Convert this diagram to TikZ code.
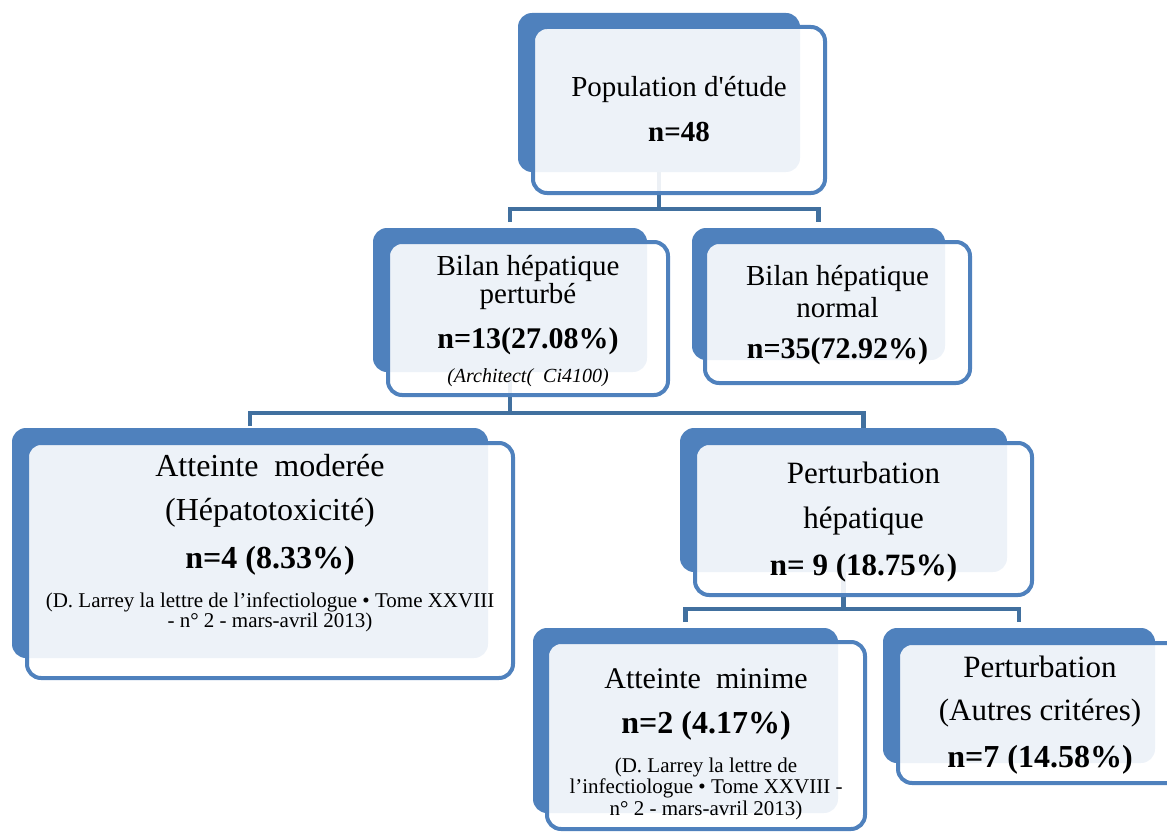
\documentclass[tikz,border=0pt]{standalone}
\usepackage{fontspec}
\setmainfont{Liberation Serif}[Ligatures=TeXOff]
\usepackage{tikz}
\usetikzlibrary{positioning, calc, backgrounds}
\definecolor{bleu}{HTML}{4F81BD}
\definecolor{bleulien}{HTML}{41709F}
\tikzset{
	% fond bleu de chaque boîte
	fond/.style={rectangle, fill=bleu, rounded corners=14pt, inner sep=0pt, outer sep=0pt},
	% boîte de devant (blanc translucide, bord bleu)
	devant/.style={rectangle, draw=bleu, line width=4pt, fill=white, fill opacity=0.9,
	               rounded corners=14pt, inner sep=0pt, outer sep=0pt},
	% connecteur de l'arbre
	lien/.style={draw=bleulien, line width=4.5pt},
	% lignes de texte
	ligne/.style={anchor=base, inner sep=0pt, font=\fontsize{#1}{#1}\selectfont},
	gras/.style={anchor=base, inner sep=0pt, font=\bfseries\fontsize{#1}{#1}\selectfont},
	note/.style={anchor=base, inner sep=0pt, font=\itshape\fontsize{#1}{#1}\selectfont},
}

\begin{document}
\begin{tikzpicture}[x=1pt, y=-1pt]
    \useasboundingbox (0,0) rectangle (1167,832);
    \clip (0,0) rectangle (1167,832);
    % population
    \node[fond, minimum width=282pt, minimum height=159pt] (popfond) at (659,92.5) {};
    \node[devant, minimum width=292pt, minimum height=166pt] (pop) at (679,110) {};
    \node[ligne=29] (popa) at (679,97) {Population d'étude};
    \node[gras=29] (popb) at (679,142) {n=48};
    % bilan perturbé
    \node[fond, minimum width=274pt, minimum height=144pt] (bilpfond) at (510,300) {};
    \node[devant, minimum width=280pt, minimum height=153pt] (bilp) at (528,318.5) {};
    \node[ligne=29] (bilpa) at (528,275) {Bilan hépatique};
    \node[ligne=29] (bilpb) at (528,303) {perturbé};
    \node[gras=30] (bilpc) at (528,348) {n=13(27.08\%)};
    \node[note=20] (bilpd) at (528,382) {(Architect(\ \ Ci4100)};
    % bilan normal
    \node[fond, minimum width=253pt, minimum height=132pt] (bilnfond) at (818.5,294) {};
    \node[devant, minimum width=265pt, minimum height=141pt] (biln) at (837.5,312.5) {};
    \node[ligne=29] (bilna) at (837.5,285) {Bilan hépatique};
    \node[ligne=29] (bilnb) at (837.5,317) {normal};
    \node[gras=30] (bilnc) at (837.5,358) {n=35(72.92\%)};
    % atteinte moderée
    \node[fond, minimum width=476pt, minimum height=230pt] (modfond) at (250,543) {};
    \node[devant, minimum width=486pt, minimum height=235pt] (mod) at (270,560.5) {};
    \node[ligne=32] (moda) at (270,476) {Atteinte\ \ moderée};
    \node[ligne=32] (modb) at (270,520) {(Hépatotoxicité)};
    \node[gras=32] (modc) at (270,568) {n=4 (8.33\%)};
    \node[ligne=21] (modd) at (270,607) {(D. Larrey la lettre de l’infectiologue • Tome XXVIII};
    \node[ligne=21] (mode) at (270,627) {- n° 2 - mars-avril 2013)};
    % perturbation hépatique
    \node[fond, minimum width=327pt, minimum height=144pt] (perthfond) at (843.5,500) {};
    \node[devant, minimum width=337pt, minimum height=152pt] (perth) at (863.5,519) {};
    \node[ligne=31] (pertha) at (863.5,483) {Perturbation};
    \node[ligne=31] (perthb) at (863.5,528) {hépatique};
    \node[gras=31] (perthc) at (863.5,575) {n= 9 (18.75\%)};
    % atteinte minime
    \node[fond, minimum width=305pt, minimum height=185pt] (minfond) at (685.5,720.5) {};
    \node[devant, minimum width=318pt, minimum height=187pt] (min) at (706,735.5) {};
    \node[ligne=30] (mina) at (706,688) {Atteinte\ \ minime};
    \node[gras=32] (minb) at (706,733) {n=2 (4.17\%)};
    \node[ligne=21] (minc) at (706,772) {(D. Larrey la lettre de};
    \node[ligne=21] (mind) at (706,793) {l’infectiologue • Tome XXVIII -};
    \node[ligne=21] (mine) at (706,815) {n° 2 - mars-avril 2013)};
    % perturbation autres critères
    \node[fond, minimum width=272pt, minimum height=135pt] (autrfond) at (1019,695.5) {};
    \node[devant, minimum width=284pt, minimum height=140pt] (autr) at (1040,713) {};
    \node[ligne=31] (autra) at (1040,677) {Perturbation};
    \node[ligne=31] (autrb) at (1040,720) {(Autres critéres)};
    \node[gras=32] (autrc) at (1040,767) {n=7 (14.58\%)};
    % connecteurs
    \begin{scope}[on background layer]
      \draw[lien] (popfond.south) -- ++(0,37) coordinate (j1);
      \draw[lien] ($(bilpfond.north)+(0,-6)$) |- (j1) -| ($(bilnfond.north)+(0,-6)$);
      \draw[lien] (bilpfond.south) -- ++(0,41) coordinate (j2);
      \draw[lien] ($(modfond.north)+(0,-2)$) |- (j2) -| ($(perth.north |- perthfond.north)+(0,0)$);
      \draw[lien] (perthfond.south) -- ++(0,37) coordinate (j3);
      \draw[lien] ($(minfond.north)+(0,-6)$) |- (j3) -| ($(autrfond.north)+(0,-6)$);
    \end{scope}
\end{tikzpicture}
\end{document}
